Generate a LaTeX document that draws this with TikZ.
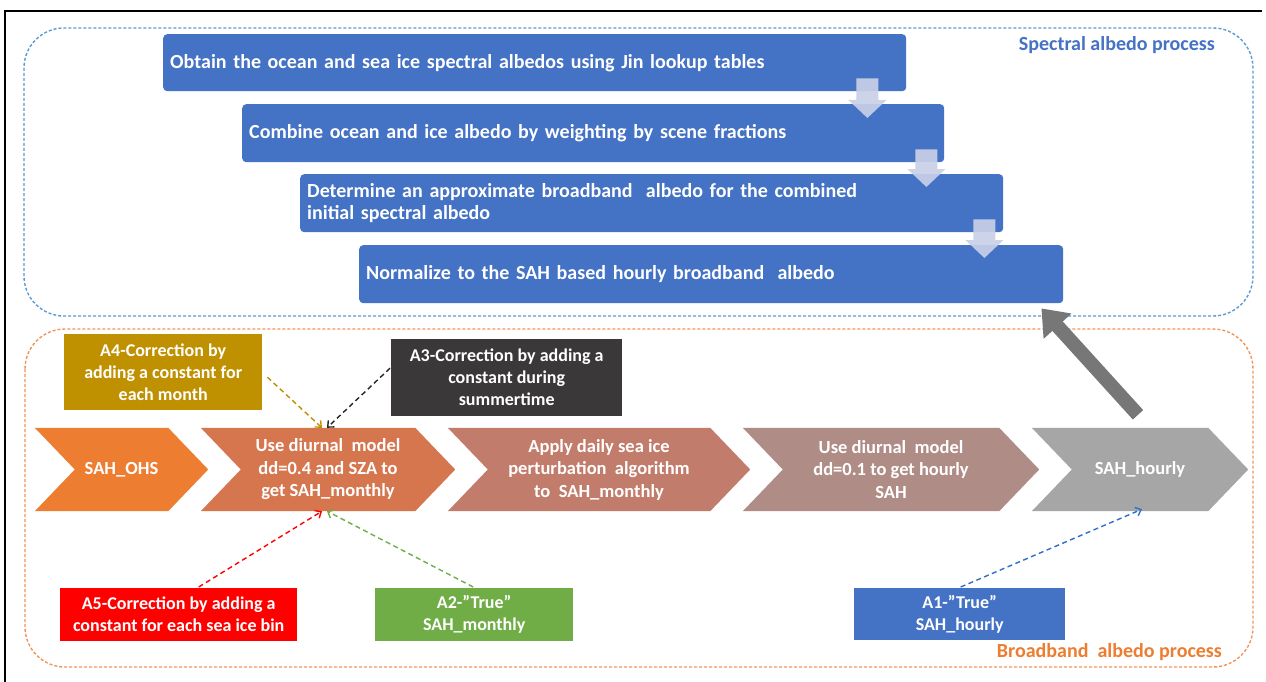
\documentclass[tikz,border=0pt]{standalone}
\usepackage{fontspec}
\setmainfont{Carlito}
\usetikzlibrary{arrows.meta,calc,backgrounds}
\definecolor{boxblue}{HTML}{4472C4}
\definecolor{lightarr}{HTML}{C9D0E8}
\definecolor{specdash}{HTML}{5B9BD5}
\definecolor{broaddash}{HTML}{F0955A}
\definecolor{speclabel}{HTML}{4472C4}
\definecolor{broadlabel}{HTML}{ED7D31}
\definecolor{chevA}{HTML}{ED7D31}
\definecolor{chevB}{HTML}{D6764F}
\definecolor{chevC}{HTML}{C27C6B}
\definecolor{chevD}{HTML}{B08C86}
\definecolor{chevE}{HTML}{A6A6A6}
\definecolor{goldbox}{HTML}{BF9000}
\definecolor{darkbox}{HTML}{3A3838}
\definecolor{redbox}{HTML}{FF0000}
\definecolor{greenbox}{HTML}{70AD47}
\definecolor{bigarrow}{HTML}{777777}
\definecolor{aonearrow}{HTML}{2F6FC6}
\tikzset{
  bluebox/.style={fill=boxblue, rounded corners=4pt, text=white,
    font=\bfseries\fontsize{20}{22}\selectfont, align=left,
    inner xsep=7pt, inner ysep=0pt, anchor=north west},
  chev/.style={text=white, font=\bfseries\fontsize{18.5}{22.5}\selectfont,
    align=center, inner sep=0pt, minimum height=83pt},
  abox/.style={text=white, font=\bfseries\fontsize{18}{22}\selectfont,
    align=center, inner sep=0pt, anchor=north west},
  dasharrow/.style={dash pattern=on 5pt off 3.5pt, line width=1.4pt,
    -{Straight Barb[length=5pt,width=9pt]}},
  lightarrow/.style={fill=lightarr, fill opacity=0.92},
  container/.style={dash pattern=on 3pt off 2pt, line width=1.4pt, rounded corners=40pt},
  grouplabel/.style={anchor=east, font=\bfseries\fontsize{20}{24}\selectfont, inner sep=0pt},
}
\newcommand{\blockdown}[2]{%
  \fill[lightarrow] ($(#1)+(-11,0)$) -- ($(#1)+(11,0)$) -- ($(#2)+(11,-18)$)
    -- ($(#2)+(19,-18)$) -- (#2) -- ($(#2)+(-19,-18)$) -- ($(#2)+(-11,-18)$) -- cycle;}
\newcommand{\chevfill}[2]{%
  \fill[#2] (#1.north west) -- ([xshift=-40pt]#1.north east) -- (#1.east)
    -- ([xshift=-40pt]#1.south east) -- (#1.south west) -- ([xshift=40pt]#1.west) -- cycle;}
\begin{document}
\begin{tikzpicture}[x=1pt,y=-1pt]
\useasboundingbox (0,0) rectangle (1266,682);
\begin{scope}[on background layer]
  \fill[white] (0,0) rectangle (1266,682);
\end{scope}
% frame
\draw[line width=2.5pt] (5,682) -- (5,11) -- (1262,11);
% containers
\draw[container, draw=specdash] (24,28) rectangle (1253,316);
\draw[container, draw=broaddash] (25,329) rectangle (1253,667);
\node[grouplabel, text=speclabel] (speclab) at (1215,45) {Spectral albedo process};
\node[grouplabel, text=broadlabel] (broadlab) at (1222,652) {Broadband\ \ albedo process};
% spectral steps
\node[bluebox, minimum width=743pt, minimum height=57pt, text width=729pt] (b1) at (163,34)
  {Obtain the ocean and sea ice spectral albedos using Jin lookup tables};
\node[bluebox, minimum width=702pt, minimum height=58pt, text width=688pt] (b2) at (242,104)
  {Combine ocean and ice albedo by weighting by scene fractions};
\node[bluebox, minimum width=703pt, minimum height=58pt, text width=689pt] (b3) at (300,174)
  {Determine an approximate broadband\ \ albedo for the combined\\initial spectral albedo};
\node[bluebox, minimum width=704pt, minimum height=58pt, text width=690pt] (b4) at (359,245)
  {Normalize to the SAH based hourly broadband\ \ albedo};
\coordinate (d1t) at ($(b1.south east)+(-39,-13)$);
\coordinate (d1b) at ($(b2.north east)+(-77,14)$);
\coordinate (d2t) at ($(b2.south east)+(-18,-13)$);
\coordinate (d2b) at ($(b3.north east)+(-77,13)$);
\coordinate (d3t) at ($(b3.south east)+(-19,-13)$);
\coordinate (d3b) at ($(b4.north east)+(-79,13)$);
\blockdown{d1t}{d1b}
\blockdown{d2t}{d2b}
\blockdown{d3t}{d3b}
% chevrons
\node[chev, minimum width=173pt] (c1) at (121.5,469.5) {SAH\_OHS};
\node[chev, minimum width=254pt] (c2) at (328,469.5) {Use diurnal\ \ model\\dd=0.4 and SZA to\\get SAH\_monthly};
\node[chev, minimum width=302pt] (c3) at (599,469.5) {Apply daily sea ice\\perturbation\ \ algorithm\\to\ \ SAH\_monthly};
\node[chev, minimum width=296pt] (c4) at (891,469.5) {Use diurnal\ \ model\\dd=0.1 to get hourly\\SAH};
\node[chev, minimum width=216pt] (c5) at (1140,469.5) {SAH\_hourly};
\begin{scope}[on background layer]
  \chevfill{c1}{chevA}
  \chevfill{c2}{chevB}
  \chevfill{c3}{chevC}
  \chevfill{c4}{chevD}
  \chevfill{c5}{chevE}
\end{scope}
% correction boxes
\node[abox, fill=goldbox, minimum width=198pt, minimum height=76pt] (a4) at (64,334)
  {A4-Correction by\\adding a constant for\\each month};
\node[abox, fill=darkbox, minimum width=231pt, minimum height=77pt] (a3) at (391,339)
  {A3-Correction by adding a\\constant during\\summertime};
\node[abox, fill=redbox, minimum width=237pt, minimum height=53pt] (a5) at (60,588)
  {A5-Correction by adding a\\constant for each sea ice bin};
\node[abox, fill=greenbox, minimum width=198pt, minimum height=53pt] (a2) at (375,588)
  {A2-”True”\\SAH\_monthly};
\node[abox, fill=boxblue, minimum width=211pt, minimum height=52pt] (a1) at (854,588)
  {A1-”True”\\SAH\_hourly};
% dashed connectors
\draw[dasharrow, draw=goldbox] ($(a4.east)+(5,5)$) -- ($(c2.north)+(-6,0)$);
\draw[dasharrow, draw=black!85] ($(a3.west)+(-1,-9.5)$) -- ($(c2.north)+(-1,0)$);
\draw[dasharrow, draw=redbox] ($(a5.north)+(20,-1)$) -- ($(c2.south)+(-6,0)$);
\draw[dasharrow, draw=greenbox] ($(a2.north)+(-1,-1)$) -- ($(c2.south)+(-1,0)$);
\draw[dasharrow, draw=aonearrow] ($(a1.north)+(1,-1)$) -- ($(c5.south)+(2,-2)$);
% big gray arrow
\coordinate (gtail) at ($(c5.north)+(-2,-13)$);
\coordinate (ghead) at ($(b4.south east)+(-22,5)$);
\draw[line width=14pt, draw=bigarrow, -{Triangle[length=24pt,width=36pt]}] (gtail) -- (ghead);
\end{tikzpicture}
\end{document}
